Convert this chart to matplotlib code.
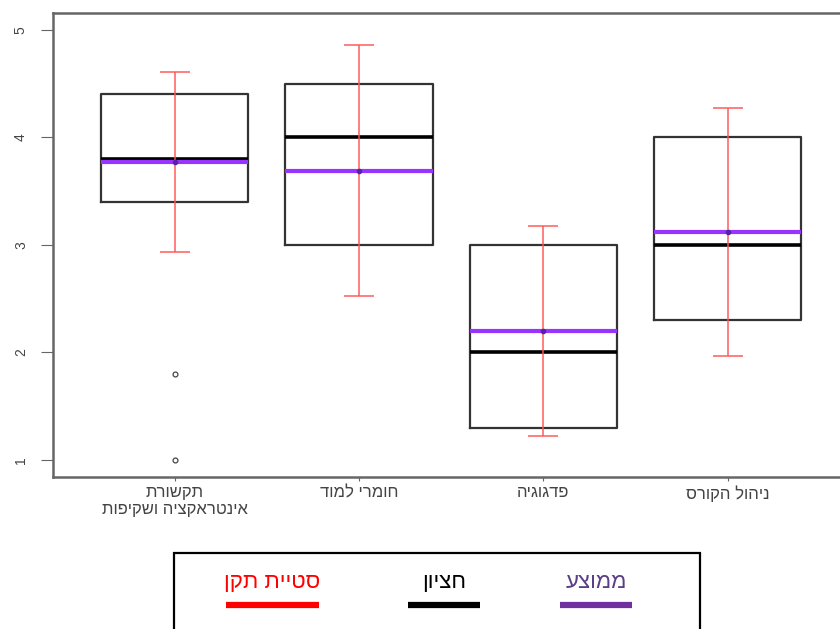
import matplotlib.pyplot as plt
import matplotlib
from matplotlib.patches import Rectangle
from matplotlib.lines import Line2D

matplotlib.rcParams['font.family'] = ['Liberation Sans', 'DejaVu Sans']

# data
categories = ['תקשורת\nאינטראקציה ושקיפות', 'חומרי למוד', 'פדגוגיה', 'ניהול הקורס']
q1 = [3.4, 3.0, 1.3, 2.3]
q3 = [4.4, 4.5, 3.0, 4.0]
medians = [3.8, 4.0, 2.0, 3.0]
means = [3.77, 3.69, 2.2, 3.12]
sds = [0.84, 1.17, 0.98, 1.15]
outliers = [[1.8, 1.0], [], [], []]
legend_labels = ['ממוצע', 'חציון', 'סטיית תקן']


def rtl(s):
    # matplotlib has no bidi support, reverse each line for display
    return '\n'.join(line[::-1] for line in s.split('\n'))


fig = plt.figure(figsize=(8.4, 6.29), dpi=100)
ax = fig.add_axes([0.063, 0.2417, 0.948, 0.738])

pos = list(range(1, len(categories) + 1))
stats = []
for i in range(len(categories)):
    stats.append(dict(med=medians[i], q1=q1[i], q3=q3[i],
                      whislo=q1[i], whishi=q3[i], fliers=outliers[i]))

ax.bxp(stats, positions=pos, widths=0.8, showcaps=False,
       boxprops=dict(color='#333333', linewidth=1.6),
       whiskerprops=dict(linewidth=0),
       medianprops=dict(color='black', linewidth=2.6),
       flierprops=dict(marker='o', markersize=3.5, markerfacecolor='none',
                       markeredgecolor='#444444', markeredgewidth=0.9))

# mean lines
ax.hlines(means, [p - 0.4 for p in pos], [p + 0.4 for p in pos],
          color='#9933ff', linewidth=3, zorder=3)

# mean +- sd
ax.errorbar(pos, means, yerr=sds, fmt='none', ecolor='#ff5555', alpha=0.75,
            elinewidth=1.4, capsize=11, capthick=1.4, zorder=4)
ax.plot(pos, means, 'o', color='#5522aa', markersize=3, zorder=5)

ax.set_xlim(0.34, 4.66)
ax.set_ylim(0.84, 5.16)
ax.set_yticks([1, 2, 3, 4, 5])
ax.set_yticklabels(['1', '2', '3', '4', '5'], rotation=90, va='center')
ax.set_xticks(pos)
ax.set_xticklabels([rtl(c) for c in categories], fontsize=12, color='#444444',
                   linespacing=1.1)
ax.tick_params(axis='y', labelsize=10, labelcolor='#444444', color='#666666',
               length=9, pad=9)
ax.tick_params(axis='x', color='#666666', length=3, pad=3)
for sp in ax.spines.values():
    sp.set_color('#666666')
    sp.set_linewidth(1.8)

# legend box at the bottom
fig.add_artist(Rectangle((174 / 840, -0.05), 526 / 840, 0.05 + 76 / 629,
                         transform=fig.transFigure, fill=False,
                         edgecolor='black', linewidth=1.6))
leg_colors = ['#5a3f86', 'black', 'red']
line_colors = ['#7030a0', 'black', 'red']
leg_x = [596, 444, 272]
leg_w = [72, 72, 93]
for lab, tc, lc, cx, w in zip(legend_labels, leg_colors, line_colors, leg_x, leg_w):
    fig.text(cx / 840, 1 - 583 / 629, rtl(lab), color=tc, fontsize=16,
             ha='center', va='center')
    fig.add_artist(Line2D([(cx - w / 2) / 840, (cx + w / 2) / 840],
                          [1 - 605 / 629, 1 - 605 / 629],
                          transform=fig.transFigure, color=lc, linewidth=4.5,
                          solid_capstyle='butt'))

plt.savefig('out.png', dpi=100)
